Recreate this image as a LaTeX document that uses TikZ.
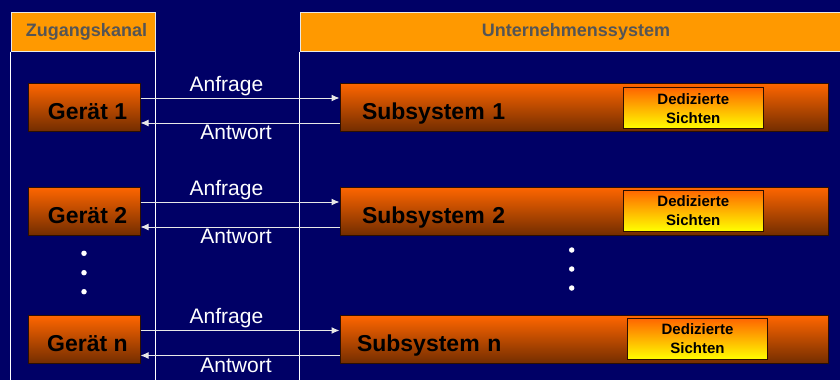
\documentclass[tikz,border=0pt]{standalone}
\usepackage{fontspec}
\setmainfont{Liberation Sans}
\usetikzlibrary{positioning,arrows.meta}
\definecolor{navy}{RGB}{0,0,102}
\definecolor{headorange}{RGB}{255,153,0}
\definecolor{headgray}{RGB}{85,85,85}
\definecolor{boxtop}{RGB}{255,102,0}
\definecolor{boxbot}{RGB}{115,45,0}
\definecolor{boxline}{RGB}{45,15,0}
\definecolor{sichtmid}{RGB}{255,200,0}
\definecolor{linegray}{RGB}{232,232,232}

\begin{document}
\begin{tikzpicture}[x=1pt, y=-1pt, node distance=104pt and 500pt, on grid,
head/.style={rectangle, fill=headorange, draw=linegray, line width=1pt,
  text=headgray, font=\fontsize{18}{22}\selectfont\bfseries,
  minimum height=39pt, inner sep=0pt},
geraet/.style={rectangle, draw=boxline, line width=1pt, top color=boxtop,
  bottom color=boxbot, minimum width=112pt, minimum height=48pt,
  font=\fontsize{23}{28}\selectfont\bfseries, text height=24pt,
  text depth=0pt, inner sep=0pt},
subsys/.style={geraet, minimum width=488pt, text width=444pt, align=left},
sicht/.style={rectangle, draw=boxline, line width=1pt, top color=boxtop,
  middle color=sichtmid, bottom color=yellow, minimum width=140pt,
  minimum height=41pt, font=\fontsize{15}{19}\selectfont\bfseries,
  align=center, inner sep=0pt},
msg/.style={-{Latex[length=8pt,width=7pt]}, draw=linegray, line width=1pt},
lab/.style={text=white, font=\fontsize{21}{25}\selectfont, inner sep=1.8pt},
rail/.style={draw=white, line width=1pt},
dot/.style={circle, fill=white, inner sep=0pt, minimum size=5.5pt}
]
\fill[navy] (0,0) rectangle (840,380);
\useasboundingbox (0,0) rectangle (840,380);
\clip (0,0) rectangle (840,380);

% Spalten
\node[head, minimum width=144pt] (zk) at (83,31.5) {\hspace*{7pt}Zugangskanal};
\node[head, minimum width=542pt] (uk) at (571,31.5) {\hspace*{10pt}Unternehmenssystem};
\coordinate (bot) at (0,382);
\draw[rail] (zk.south west) -- (zk.south west |- bot);
\draw[rail] (zk.south east) -- (zk.south east |- bot);
\draw[rail] (uk.south west) -- (uk.south west |- bot);

% Geraete
\node[geraet] (g1) at (84,107) {\hspace*{7pt}Gerät 1};
\node[geraet] (g2) [below=of g1] {\hspace*{7pt}Gerät 2};
\node[geraet] (gn) [below=128.5pt of g2] {\hspace*{7pt}Gerät n};

% Subsysteme
\node[subsys] (s1) [right=of g1] {Subsystem 1};
\node[subsys] (s2) [right=of g2] {Subsystem 2};
\node[subsys] (sn) [right=of gn] {\hspace*{-5pt}Subsystem n};

\node[sicht] (d1) at (693.3,108.3) {Dedizierte\\Sichten};
\node[sicht] (d2) at (693.3,210.5) {Dedizierte\\Sichten};
\node[sicht] (dn) at (697.5,339) {Dedizierte\\Sichten};

% Anfragen und Antworten
\foreach \i in {1,2,n} {
  \draw[msg] ([yshift=9pt]g\i.east) --
    node[lab, above, xshift=-13.5pt] {Anfrage} ([yshift=9pt]g\i.east -| s\i.west);
  \draw[msg] ([yshift=-16pt]s\i.west) --
    node[lab, below, xshift=-4pt] {Antwort} ([yshift=-16pt]s\i.west -| g\i.east);
}

% Punkte
\node[dot] (p1) at (84,253.3) {};
\node[dot] (p2) at (84,272.7) {};
\node[dot] (p3) at (84,291.7) {};
\node[dot] (q1) at (571.7,250) {};
\node[dot] (q2) at (571.7,269) {};
\node[dot] (q3) at (571.7,288) {};
\end{tikzpicture}
\end{document}
